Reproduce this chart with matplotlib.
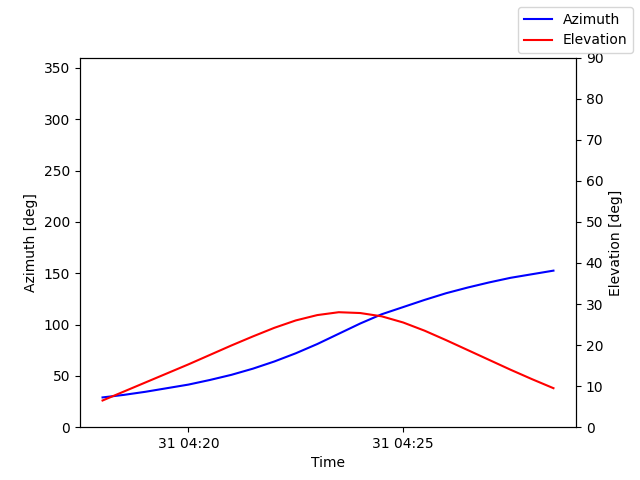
import matplotlib
matplotlib.use("Agg")
import matplotlib.pyplot as plt
import matplotlib.dates as mdates
import pandas as pd

times = pd.date_range("2024-01-31 04:18:00", periods=22, freq="30s")
azimuth = [29,31.5,34.5,38,41.5,46,51,57,64,72,81,91,101,110,117,124,130.5,136,141,145.5,149,152.5]
elevation = [6.5,8.7,10.9,13.1,15.3,17.6,19.9,22.1,24.2,26,27.3,28,27.8,27,25.5,23.5,21.2,18.8,16.4,14,11.7,9.5]

fig, ax = plt.subplots(figsize=(6.4, 4.8), dpi=100)
ax.plot(times, azimuth, color="blue", label="Azimuth")
ax.set_ylim(0, 360)
ax.set_ylabel("Azimuth [deg]")
ax.set_xlabel("Time")
ax2 = ax.twinx()
ax2.plot(times, elevation, color="red", label="Elevation")
ax2.set_ylim(0, 90)
ax2.set_ylabel("Elevation [deg]")
ax.xaxis.set_major_locator(mdates.MinuteLocator(byminute=[20, 25]))
ax.xaxis.set_major_formatter(mdates.DateFormatter("%d %H:%M"))
fig.legend(loc="upper right")
fig.savefig("out.png")
